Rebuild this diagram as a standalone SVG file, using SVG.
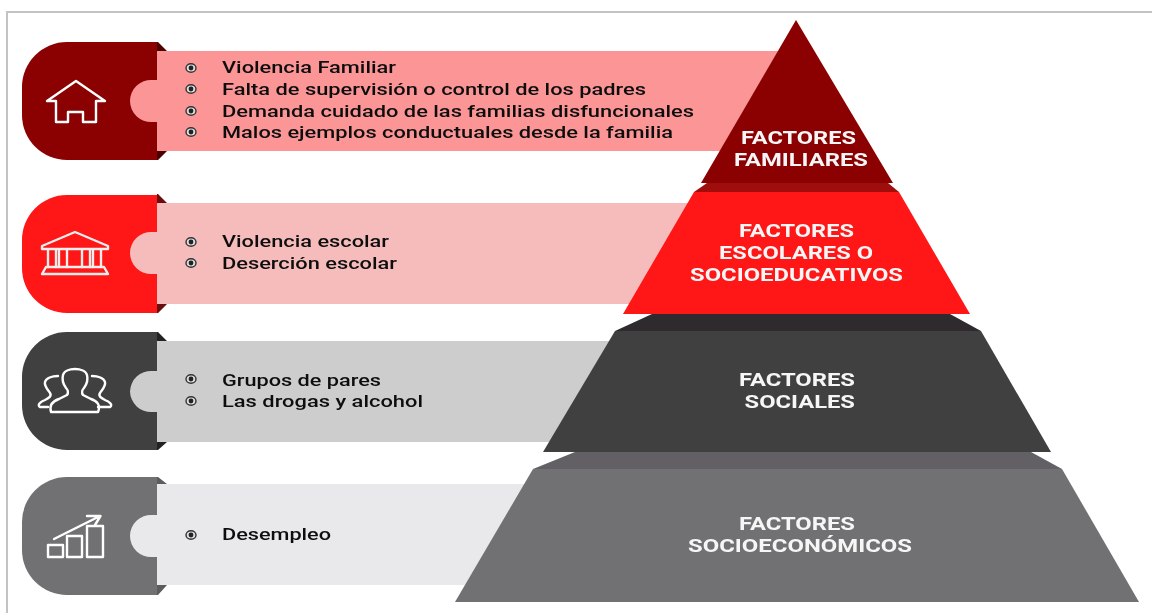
<svg xmlns="http://www.w3.org/2000/svg" width="1152" height="613" viewBox="0 0 1152 613">
<style>
.b{font-family:Roboto,"Liberation Sans",sans-serif;font-weight:500;font-size:17px;fill:#111}
.h{font-family:Roboto,"Liberation Sans",sans-serif;font-weight:700;font-size:18px;fill:#f6f6f6}
.i{fill:none;stroke-width:2.400;stroke-linejoin:round;stroke-linecap:round}
.ring{fill:#ddd;stroke:#333;stroke-width:1.400}
.dot{fill:#222}
</style>
<defs>
<g id="bullet"><ellipse class="ring" rx="5" ry="4.300"/><circle class="dot" r="2.400"/></g>
<filter id="soft" x="0" y="0" width="100%" height="100%" filterUnits="userSpaceOnUse" primitiveUnits="userSpaceOnUse"><feGaussianBlur stdDeviation="0.450"/></filter>
</defs>
<rect width="1152" height="613" fill="#fff"/>
<g filter="url(#soft)">
<path d="M7 613V12H1152" fill="none" stroke="#c3c3c3" stroke-width="2"/>

<g id="row-familiar">
<path d="M157 42H67A45 45 0 0 0 22 87V115A45 45 0 0 0 67 160H157Z" fill="#8b0000"/>
<path d="M157 42h1l9 9h-10zM157 160h1l9-9h-10z" fill="#4d0606"/>
<path d="M157 51H790V151H157V122H152A21 21 0 0 1 130 101A21 21 0 0 1 152 80H157Z" fill="#fb9596"/>
<path class="i" stroke="#fff" d="M76 81L47 101H56V122H68V112H83V122H96V101H105Z"/>
<use href="#bullet" x="191" y="68"/><use href="#bullet" x="191" y="89"/><use href="#bullet" x="191" y="111"/><use href="#bullet" x="191" y="132"/>
<text class="b" x="222" y="73" textLength="174" lengthAdjust="spacingAndGlyphs">Violencia Familiar</text>
<text class="b" x="222" y="95" textLength="424" lengthAdjust="spacingAndGlyphs">Falta de supervisión o control de los padres</text>
<text class="b" x="222" y="117" textLength="472" lengthAdjust="spacingAndGlyphs">Demanda cuidado de las familias disfuncionales</text>
<text class="b" x="222" y="138" textLength="451" lengthAdjust="spacingAndGlyphs">Malos ejemplos conductuales desde la familia</text>
</g>

<g id="row-escolar">
<path d="M157 195H67A45 45 0 0 0 22 240V268A45 45 0 0 0 67 313H157Z" fill="#ff1414"/>
<path d="M157 194h1l9 9h-10zM157 313h1l9-9h-10z" fill="#6b0808"/>
<path d="M157 203H700V304H157V274H152A21 21 0 0 1 130 253A21 21 0 0 1 152 232H157Z" fill="#f6bcbc"/>
<g class="i" stroke="#eee">
<path d="M42 246L75 232L108 246V249H42Z"/>
<path d="M48 250V267M56 250V267M59 250V267M67 250V267M82 250V267M90 250V267M93 250V267M101 250V267"/>
<path d="M46 267H104L108 274H42Z"/>
</g>
<use href="#bullet" x="191" y="242"/><use href="#bullet" x="191" y="263"/>
<text class="b" x="222" y="247" textLength="167" lengthAdjust="spacingAndGlyphs">Violencia escolar</text>
<text class="b" x="222" y="269" textLength="175" lengthAdjust="spacingAndGlyphs">Deserción escolar</text>
</g>

<g id="row-social">
<path d="M157 332H67A45 45 0 0 0 22 377V405A45 45 0 0 0 67 450H157Z" fill="#404040"/>
<path d="M157 332h1l9 9h-10zM157 450h1l9-8h-10z" fill="#222"/>
<path d="M157 341H640V442H157V412H152A21 21 0 0 1 130 391.500A21 21 0 0 1 152 371H157Z" fill="#cdcdcd"/>
<g class="i" stroke="#fff">
<path d="M51 412C49 405 53 401 59 399L67 395C69 392 68 390 66 388C63 384 62 379 63 375C65 367 85 367 87 375C88 379 87 384 84 388C82 390 81 392 83 395L91 399C97 401 101 405 98 412Z"/>
<path d="M58 376C52 376 46 378 45 382C44 386 48 390 50 393C52 396 49 398 45 400C40 402 37 405 40 407H48"/>
<path d="M92 376C98 376 104 378 105 382C106 386 102 390 100 393C98 396 101 398 105 400C110 402 113 405 110 407H98"/>
</g>
<use href="#bullet" x="191" y="379"/><use href="#bullet" x="191" y="401"/>
<text class="b" x="222" y="386" textLength="159" lengthAdjust="spacingAndGlyphs">Grupos de pares</text>
<text class="b" x="222" y="407" textLength="201" lengthAdjust="spacingAndGlyphs">Las drogas y alcohol</text>
</g>

<g id="row-socioeconomico">
<path d="M157 477H67A45 45 0 0 0 22 522V550A45 45 0 0 0 67 595H157Z" fill="#717072"/>
<path d="M157 477h1l9 7h-10zM157 595h1l9-10h-10z" fill="#5c5b5e"/>
<path d="M157 484H560V585H157V557H152A21 21 0 0 1 130 536A21 21 0 0 1 152 515H157Z" fill="#e9e9eb"/>
<g class="i" stroke="#fff">
<rect x="48" y="545" width="15" height="12"/><rect x="67" y="536" width="15" height="21"/><rect x="87" y="526" width="16" height="31"/>
<path d="M54 539L100 516M87 516L100.500 516L95 525"/>
</g>
<use href="#bullet" x="191" y="535"/>
<text class="b" x="222" y="540" textLength="109" lengthAdjust="spacingAndGlyphs">Desempleo</text>
</g>

<g id="pyr-familiares">
<path d="M707 183L694 192H899L888 183Z" fill="#a00a0a"/>
<path d="M796 20L893 183H701Z" fill="#8b0000"/>
<text class="h" x="741" y="144" textLength="115" lengthAdjust="spacingAndGlyphs">FACTORES</text>
<text class="h" x="734" y="166" textLength="134" lengthAdjust="spacingAndGlyphs">FAMILIARES</text>
</g>
<g id="pyr-escolares">
<path d="M694 192H899L970 314H623Z" fill="#ff1414"/>
<text class="h" x="739" y="237" textLength="115" lengthAdjust="spacingAndGlyphs">FACTORES</text>
<text class="h" x="719" y="259" textLength="154" lengthAdjust="spacingAndGlyphs">ESCOLARES O</text>
<text class="h" x="690" y="281" textLength="213" lengthAdjust="spacingAndGlyphs">SOCIOEDUCATIVOS</text>
</g>
<g id="pyr-sociales">
<path d="M652 314L615 331H981L950 314Z" fill="#2e2c2d"/>
<path d="M615 331H981L1051 452H543Z" fill="#404040"/>
<text class="h" x="739" y="386" textLength="116" lengthAdjust="spacingAndGlyphs">FACTORES</text>
<text class="h" x="744.500" y="408" textLength="110.500" lengthAdjust="spacingAndGlyphs">SOCIALES</text>
</g>
<g id="pyr-socioeconomicos">
<path d="M575 452L533 469H1062L1031 452Z" fill="#626165"/>
<path d="M533 469H1062L1139 602H455Z" fill="#717072"/>
<text class="h" x="739" y="530" textLength="116" lengthAdjust="spacingAndGlyphs">FACTORES</text>
<text class="h" x="688" y="552" textLength="224" lengthAdjust="spacingAndGlyphs">SOCIOECONÓMICOS</text>
</g>
<g id="connectors"/>
</g>
</svg>
